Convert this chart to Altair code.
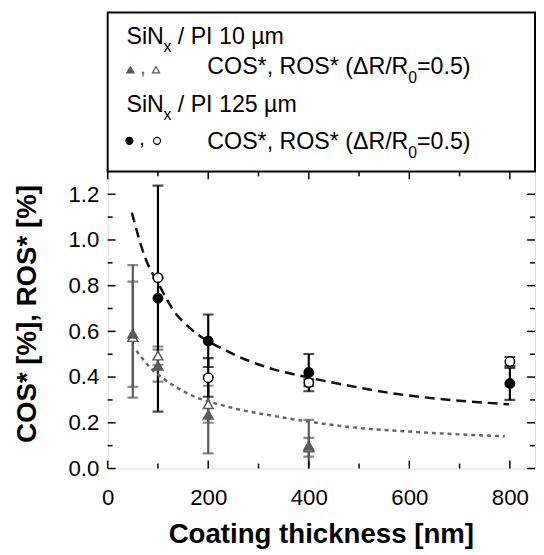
import altair as alt
import pandas as pd

# ---------------- data ----------------
thick10 = [50, 100, 200, 400]
cos10 = [0.59, 0.45, 0.235, 0.10]
cos10_lo = [0.31, 0.38, 0.066, -0.015]
cos10_hi = [0.89, 0.52, 0.405, 0.213]
ros10 = [0.575, 0.494, 0.281, 0.092]
ros10_lo = [0.357, 0.454, 0.20, 0.052]
ros10_hi = [0.818, 0.534, 0.362, 0.134]

thick125 = [100, 200, 400, 800]
cos125 = [0.745, 0.558, 0.42, 0.372]
cos125_lo = [0.249, 0.444, 0.338, 0.30]
cos125_hi = [1.238, 0.674, 0.501, 0.44]
ros125 = [0.835, 0.397, 0.376, 0.468]
ros125_lo = [0.835, 0.314, 0.36, 0.448]
ros125_hi = [0.835, 0.483, 0.39, 0.488]

fit125_x = [48, 74, 103, 133, 165, 243, 321, 400, 471, 569, 667, 798]
fit125_y = [1.12, 0.926, 0.80, 0.685, 0.612, 0.508, 0.44, 0.398, 0.366, 0.328, 0.303, 0.281]
fit10_x = [57, 87, 113, 152, 243, 341, 432, 471, 634, 790]
fit10_y = [0.515, 0.436, 0.39, 0.336, 0.268, 0.226, 0.195, 0.184, 0.157, 0.141]

x_major = [0, 200, 400, 600, 800]
x_minor = [100, 300, 500, 700]
y_major = [0.0, 0.2, 0.4, 0.6, 0.8, 1.0, 1.2]
y_minor = [0.1, 0.3, 0.5, 0.7, 0.9, 1.1]

# ---------------- layout ----------------
W, H = 433, 301
FONT = "Liberation Sans"
GRAY = "#5a5a5a"
BLACK = "#000000"

xscale = alt.Scale(domain=[0, 850], nice=False, zero=False)
yscale = alt.Scale(domain=[0, 1.3], nice=False, zero=False)

xaxis = alt.Axis(
    values=x_major, format="d", domain=False, ticks=False, tickSize=0, grid=False,
    labelFontSize=22.5, labelFont=FONT, labelColor="black", labelPadding=19,
    labelFlush=False,
    title="Coating thickness [nm]", titleFontSize=28, titleFont=FONT,
    titleFontWeight="bold", titleColor="black", titleX=216, titleY=75,
    titleBaseline="alphabetic", titleAlign="center")
yaxis = alt.Axis(
    values=y_major, format=".1f", domain=False, ticks=False, tickSize=0, grid=False,
    labelFontSize=22.5, labelFont=FONT, labelColor="black", labelPadding=9,
    title="COS* [%], ROS* [%]", titleFontSize=28, titleFont=FONT,
    titleFontWeight="bold", titleColor="black", titleX=-81, titleY=144,
    titleAngle=270, titleBaseline="middle", titleAlign="center")


def X(field):
    return alt.X(field, scale=xscale, axis=xaxis)


def Y(field):
    return alt.Y(field, scale=yscale, axis=yaxis)


def df_series(x, y, lo, hi):
    return pd.DataFrame({"x": x, "y": y, "lo": lo, "hi": hi})


def series_layers(df, color, shape, filled, size):
    rule = alt.Chart(df).mark_rule(color=color, strokeWidth=2.2, clip=True).encode(
        x=X("x:Q"), y=Y("lo:Q"), y2="hi:Q")
    cap_lo = alt.Chart(df).mark_tick(orient="horizontal", size=11, thickness=2.2,
                                     color=color, clip=True).encode(x=X("x:Q"), y=Y("lo:Q"))
    cap_hi = alt.Chart(df).mark_tick(orient="horizontal", size=11, thickness=2.2,
                                     color=color, clip=True).encode(x=X("x:Q"), y=Y("hi:Q"))
    pts = alt.Chart(df).mark_point(
        shape=shape, filled=True, fill=color if filled else "white",
        stroke=color, strokeWidth=1.5, size=size, opacity=1,
    ).encode(x=X("x:Q"), y=Y("y:Q"))
    return [rule, cap_lo, cap_hi], pts


d_cos10 = df_series(thick10, cos10, cos10_lo, cos10_hi)
d_ros10 = df_series(thick10, ros10, ros10_lo, ros10_hi)
d_cos125 = df_series(thick125, cos125, cos125_lo, cos125_hi)
d_ros125 = df_series(thick125, ros125, ros125_lo, ros125_hi)

eb1, p1 = series_layers(d_cos10, GRAY, "triangle-up", True, 100)
eb2, p2 = series_layers(d_ros10, GRAY, "triangle-up", False, 100)
eb3, p3 = series_layers(d_cos125, BLACK, "circle", True, 90)
eb4, p4 = series_layers(d_ros125, BLACK, "circle", False, 90)


# inner ticks on all four sides
def vticks(vals, length):
    d = pd.DataFrame({"v": vals})
    bot = alt.Chart(d).mark_rule(color="black", strokeWidth=1.5).encode(
        x=X("v:Q"), y=alt.value(H), y2=alt.value(H - length))
    top = alt.Chart(d).mark_rule(color="black", strokeWidth=1.5).encode(
        x=X("v:Q"), y=alt.value(0), y2=alt.value(length))
    return [bot, top]


def hticks(vals, length):
    d = pd.DataFrame({"v": vals})
    left = alt.Chart(d).mark_rule(color="black", strokeWidth=1.5).encode(
        y=Y("v:Q"), x=alt.value(0), x2=alt.value(length))
    right = alt.Chart(d).mark_rule(color="black", strokeWidth=1.5).encode(
        y=Y("v:Q"), x=alt.value(W), x2=alt.value(W - length))
    return [left, right]


tick_layers = vticks(x_major, 8) + vticks(x_minor, 5) + hticks(y_major, 8) + hticks(y_minor, 5)

# fitted curves
fit125 = alt.Chart(pd.DataFrame({"x": fit125_x, "y": fit125_y})).mark_line(
    color="#111111", strokeWidth=2.5, strokeDash=[10, 6], interpolate="monotone").encode(
    x=X("x:Q"), y=Y("y:Q"))
fit10 = alt.Chart(pd.DataFrame({"x": fit10_x, "y": fit10_y})).mark_line(
    color="#666666", strokeWidth=2.5, strokeDash=[4, 4], interpolate="monotone").encode(
    x=X("x:Q"), y=Y("y:Q"))

# ---------------- legend box ----------------
one = pd.DataFrame({"a": [0]})
legend_box = alt.Chart(one).mark_rect(fill="white", stroke="black", strokeWidth=2).encode(
    x=alt.value(0), x2=alt.value(W), y=alt.value(-161), y2=alt.value(0))

LF = 23.5   # legend font size
SF = 16     # subscript size


def txt(s, x, y, size=LF, color="black"):
    return alt.Chart(one).mark_text(
        text=s, align="left", baseline="alphabetic", fontSize=size, font=FONT, color=color
    ).encode(x=alt.value(x), y=alt.value(y))


def sym(shape, filled, color, x, y, size):
    return alt.Chart(one).mark_point(
        shape=shape, filled=True, fill=color if filled else "white", stroke=color,
        strokeWidth=1.2, size=size, opacity=1).encode(x=alt.value(x), y=alt.value(y))


def sin_line(label, base):
    return [txt("SiN", 19, base), txt("x", 56.5, base + 8, SF), txt(label, 71, base)]


def cos_line(base):
    return [txt("COS*, ROS* (\u0394R/R", 101, base), txt("0", 304.5, base + 9, SF),
            txt("=0.5)", 313.5, base)]


legend_layers = [legend_box]
legend_layers += sin_line("/ PI 10 \u00b5m", -129)
legend_layers += [sym("triangle-up", True, GRAY, 23, -103, 55),
                  txt(",", 33, -99, 20, GRAY),
                  sym("triangle-up", False, GRAY, 49, -103, 55)]
legend_layers += cos_line(-99)
legend_layers += sin_line("/ PI 125 \u00b5m", -60)
legend_layers += [sym("circle", True, BLACK, 22, -31, 50),
                  txt(",", 32, -27, 20, BLACK),
                  sym("circle", False, BLACK, 50, -31, 50)]
legend_layers += cos_line(-23)

layers = (eb1 + eb2 + eb3 + eb4 + [fit125, fit10, p2, p1, p4, p3]
          + tick_layers + legend_layers)

chart = alt.layer(*layers).properties(
    width=W, height=H,
    padding={"left": 101, "top": 162, "right": 1, "bottom": 79},
    autosize=alt.AutoSizeParams(type="none"),
).configure_view(stroke="black", strokeWidth=2).configure(font=FONT)

chart.save("out.html", embed_options={"renderer": "svg", "actions": False})
